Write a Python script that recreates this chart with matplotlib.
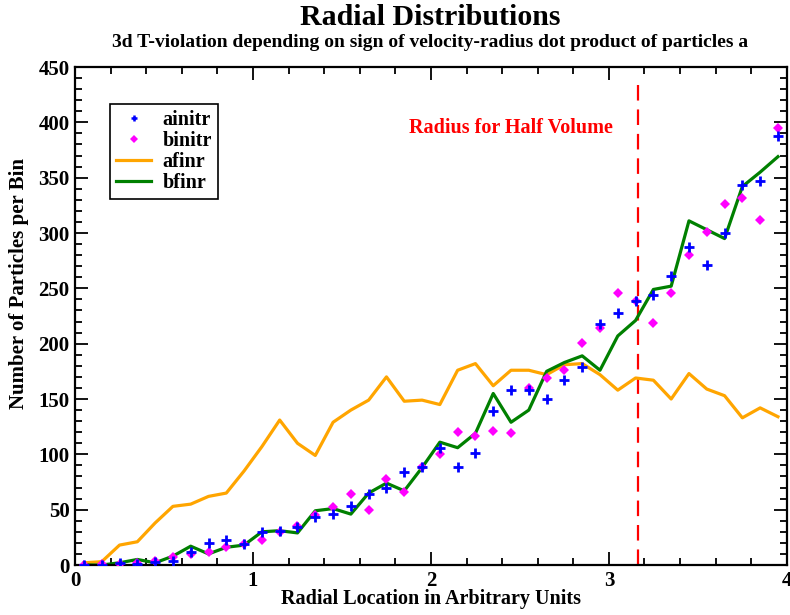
import matplotlib
matplotlib.use("Agg")
import matplotlib.pyplot as plt
from matplotlib.ticker import MultipleLocator
from matplotlib.lines import Line2D
import numpy as np

x = [0.05, 0.15, 0.25, 0.35, 0.45, 0.55, 0.65, 0.75, 0.85, 0.95,
     1.05, 1.15, 1.25, 1.35, 1.45, 1.55, 1.65, 1.75, 1.85, 1.95,
     2.05, 2.15, 2.25, 2.35, 2.45, 2.55, 2.65, 2.75, 2.85, 2.95,
     3.05, 3.15, 3.25, 3.35, 3.45, 3.55, 3.65, 3.75, 3.85, 3.95]

ainitr = [0, 0, 2, 1, 3, 4, 12, 20, 23, 19,
          30, 31, 34, 43, 46, 53, 64, 70, 84, 89,
          106, 89, 101, 139, 158, 158, 150, 167, 179, 218,
          228, 239, 244, 261, 287, 271, 300, 343, 347, 388]

binitr = [0, 1, 1, 2, 4, 7, 10, 12, 16, 19,
          23, 30, 35, 45, 52, 64, 50, 78, 66, 89,
          100, 120, 117, 121, 119, 160, 169, 176, 201, 214,
          246, 239, 219, 246, 280, 301, 326, 332, 312, 395]

afinr = [2, 3, 18, 21, 38, 53, 55, 62, 65, 85,
         107, 131, 110, 99, 129, 140, 149, 170, 148, 149,
         145, 176, 182, 162, 176, 176, 172, 181, 182, 172,
         158, 169, 167, 150, 173, 159, 153, 133, 142, 134]

bfinr = [0, 0, 2, 5, 2, 8, 17, 10, 16, 18,
         30, 31, 29, 49, 51, 46, 65, 74, 67, 88,
         111, 106, 119, 155, 129, 140, 175, 183, 189, 176,
         207, 221, 249, 252, 311, 303, 295, 342, 355, 369]

half_volume_radius = 3.165

plt.rcParams['font.family'] = ['Liberation Serif', 'DejaVu Serif']
plt.rcParams['font.weight'] = 'bold'

fig = plt.figure(figsize=(7.9, 6.15), dpi=100)
ax = fig.add_axes([0.095, 0.0813, 0.901, 0.8097])

ax.plot(x, ainitr, linestyle='none', marker='+', color='#0000ff',
        markersize=7, markeredgewidth=2, zorder=4)
ax.plot(x, binitr, linestyle='none', marker='D', color='#ff00ff',
        markersize=5.5, markeredgewidth=0, zorder=3)
ax.plot(x, afinr, color='#ffa500', linewidth=2.3, zorder=2)
ax.plot(x, bfinr, color='#008000', linewidth=2.3, zorder=2)

ax.axvline(half_volume_radius, ymin=0, ymax=0.98, color='#ff0000',
           linewidth=1.6, dashes=(7, 4), zorder=1)
ax.text(2.45, 395, 'Radius for Half Volume', color='#ff0000', fontsize=14.5,
        fontweight='bold', ha='center', va='center')

ax.set_xlim(0, 4)
ax.set_ylim(0, 450)
ax.xaxis.set_major_locator(MultipleLocator(1))
ax.xaxis.set_minor_locator(MultipleLocator(0.2))
ax.yaxis.set_major_locator(MultipleLocator(50))
ax.yaxis.set_minor_locator(MultipleLocator(10))
ax.tick_params(which='both', direction='in', top=True, right=True,
               labelsize=15, width=1.3)
ax.tick_params(which='major', length=9.5, pad=4)
ax.tick_params(which='minor', length=5)
for lab in ax.get_xticklabels() + ax.get_yticklabels():
    lab.set_fontweight('bold')
for s in ax.spines.values():
    s.set_linewidth(1.6)

ax.set_xlabel('Radial Location in Arbitrary Units', fontsize=14.5,
              fontweight='bold', labelpad=-1)
ax.set_ylabel('Number of Particles per Bin', fontsize=15,
              fontweight='bold')
ax.yaxis.set_label_coords(-0.064, 0.566)

fig.text(0.545, 0.972, 'Radial Distributions', ha='center', va='center',
         fontsize=21.5, fontweight='bold')
fig.text(0.544, 0.931,
         '3d T-violation depending on sign of velocity-radius dot product of particles a',
         ha='center', va='center', fontsize=14, fontweight='bold')

handles = [
    Line2D([], [], linestyle='none', marker='+', color='#0000ff',
           markersize=5, markeredgewidth=1.8),
    Line2D([], [], linestyle='none', marker='D', color='#ff00ff',
           markersize=4.5, markeredgewidth=0),
    Line2D([], [], color='#ffa500', linewidth=2.3),
    Line2D([], [], color='#008000', linewidth=2.3),
]
labels = ['ainitr', 'binitr', 'afinr', 'bfinr']
leg = ax.legend(handles, labels, loc='upper left', bbox_to_anchor=(0.049, 0.926),
                borderaxespad=0, fancybox=False,
                edgecolor='black', framealpha=1,
                handlelength=1.75, handletextpad=0.55, borderpad=0.3,
                labelspacing=0.05, prop={'weight': 'bold', 'size': 14.5})
leg.get_frame().set_linewidth(1.2)

fig.savefig('out.png', dpi=100)
